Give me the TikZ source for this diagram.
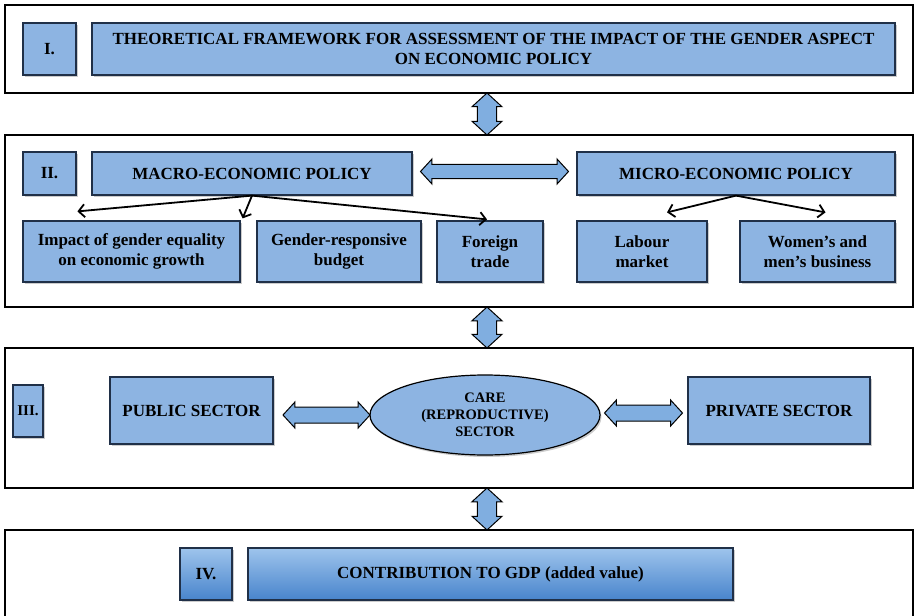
\documentclass[tikz,border=0pt]{standalone}
\usepackage{fontspec}
\setmainfont{Liberation Serif}
\usepackage{tikz}
\usetikzlibrary{arrows.meta,positioning,calc,shapes.geometric,shapes.arrows,shadows}

\definecolor{boxblue}{RGB}{141,180,226}
\definecolor{boxedge}{RGB}{32,48,72}
\definecolor{arrowblue}{RGB}{128,174,224}
\definecolor{gdptop}{RGB}{158,196,236}
\definecolor{gdpbottom}{RGB}{72,132,204}

\begin{document}
\begin{tikzpicture}[x=1pt, y=-1pt,
    frame/.style={draw=black, line width=2.6pt, minimum width=908pt, inner sep=0pt},
    box/.style={draw=boxedge, line width=1.2pt, fill=boxblue, align=center, inner sep=2pt,
                font=\bfseries\fontsize{17}{20.5}\selectfont,
                drop shadow={shadow xshift=1.5pt, shadow yshift=-2pt, opacity=0.4}},
    gdpbox/.style={box, fill=none, top color=gdptop, bottom color=gdpbottom},
    blockarrow/.style={double arrow, draw=black, line width=1pt, fill=arrowblue, inner xsep=0pt,
                double arrow tip angle=95, double arrow head extend=5pt},
    link/.style={draw=black, line width=1.8pt, -{Straight Barb[length=6pt, width=13pt, line width=1.8pt]}}]
  \useasboundingbox (0,0) rectangle (916,616);

  % frames
  \node[frame, minimum height=88pt] (frameI) at (459,49) {};
  \node[frame, minimum height=172pt] (frameII) at (459,221) {};
  \node[frame, minimum height=140pt] (frameIII) at (459,418) {};
  \node[frame, minimum height=88pt] (frameIV) at (459,574) {};

  % I.
  \node[box, minimum width=53pt, minimum height=52pt] (numI) at (49.5,49) {I.};
  \node[box, minimum width=803pt, minimum height=52pt] (theory) at (493.5,49)
    {THEORETICAL FRAMEWORK FOR ASSESSMENT OF THE IMPACT OF THE GENDER ASPECT\\ON ECONOMIC POLICY};

  % II.
  \node[box, minimum width=53pt, minimum height=43pt] (numII) at (49.5,173.5) {II.};
  \node[box, minimum width=320pt, minimum height=43pt] (macro) at (252,173.5) {MACRO-ECONOMIC POLICY};
  \node[box, minimum width=318pt, minimum height=43pt] (micro) at (736,173.5) {MICRO-ECONOMIC POLICY};
  \node[box, minimum width=217pt, minimum height=61pt] (impact) at (131.5,251.5)
    {Impact of gender equality\\on economic growth};
  \node[box, minimum width=164pt, minimum height=61pt] (budget) at (339,251.5) {Gender-responsive\\budget};
  \node[box, minimum width=106pt, minimum height=61pt] (trade) at (490,251.5) {Foreign\\trade};
  \node[box, minimum width=130pt, minimum height=61pt] (labour) at (642,251.5) {Labour\\market};
  \node[box, minimum width=155pt, minimum height=61pt] (business) at (817.5,251.5) {Women’s and\\men’s business};

  \draw[link] (macro.south) -- ($(impact.north west)+(55,-9)$);
  \draw[link] (macro.south) -- ($(impact.north east)+(2,-2)$);
  \draw[link] (macro.south) -- ($(trade.north)+(-3,-1)$);
  \draw[link] (micro.south) -- ($(labour.north)+(25,-8)$);
  \draw[link] (micro.south) -- ($(business.north)+(8,-8)$);
  \node[blockarrow, inner ysep=6pt, minimum width=25pt, minimum height=148pt] (macromicro)
    at ($(macro.east)!0.5!(micro.west)+(0,-2)$) {};

  % III.
  \node[box, inner xsep=0pt, minimum width=30pt, minimum height=52pt, font=\bfseries\fontsize{15}{18}\selectfont]
    (numIII) at (28,411) {III.};
  \node[box, minimum width=163pt, minimum height=67pt] (public) at (191.5,410.5) {PUBLIC SECTOR};
  \node[box, ellipse, draw=black, minimum width=230pt, minimum height=80pt, font=\bfseries\fontsize{14.5}{17}\selectfont]
    (care) at (485,415) {CARE\\(REPRODUCTIVE)\\SECTOR};
  \node[box, minimum width=182pt, minimum height=67pt] (private) at (779,410.5) {PRIVATE SECTOR};
  \node[blockarrow, inner ysep=7.5pt, minimum width=26pt, minimum height=87pt] (publiccare) at (326.5,415) {};
  \node[blockarrow, inner ysep=7.5pt, minimum width=26pt, minimum height=78pt] (careprivate) at (643.5,413) {};

  % IV.
  \node[gdpbox, minimum width=52pt, minimum height=52pt] (numIV) at (206,574) {IV.};
  \node[gdpbox, minimum width=485pt, minimum height=52pt] (gdp) at (490.5,574) {CONTRIBUTION TO GDP (added value)};

  % between the levels
  \node[blockarrow, rotate=90, inner ysep=8.5pt, minimum width=30pt, minimum height=42pt] (upI) at (487,114) {};
  \node[blockarrow, rotate=90, inner ysep=8.5pt, minimum width=30pt, minimum height=41pt] (upII) at (487,327.5) {};
  \node[blockarrow, rotate=90, inner ysep=8.5pt, minimum width=30pt, minimum height=42pt] (upIII) at (487,509) {};
\end{tikzpicture}
\end{document}
